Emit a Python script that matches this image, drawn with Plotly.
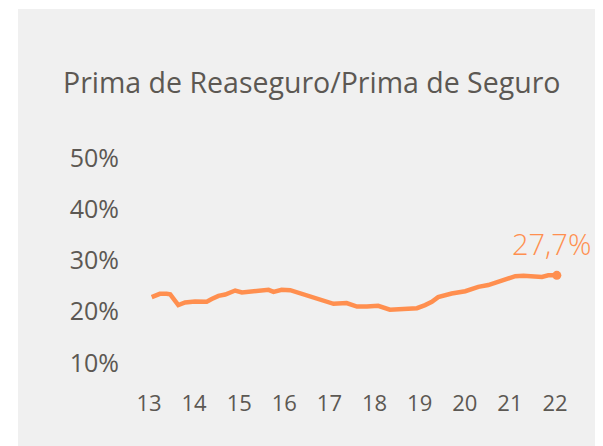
import plotly.graph_objects as go

# Data (year as decimal, ratio in %)
years = [13.06, 13.24, 13.39, 13.47, 13.65, 13.80, 14.02, 14.20, 14.28, 14.39,
         14.54, 14.69, 14.91, 15.06, 15.28, 15.50, 15.65, 15.76, 15.94, 16.13,
         16.27, 16.42, 16.64, 16.79, 17.09, 17.38, 17.61, 17.83, 18.08, 18.34,
         18.57, 18.94, 19.12, 19.27, 19.41, 19.71, 20.01, 20.30, 20.52, 20.82,
         21.12, 21.30, 21.45, 21.71, 21.85, 22.04]
ratio = [22.85, 23.5, 23.5, 23.4, 21.3, 21.8, 22.0, 22.08, 21.94, 22.47,
         23.1, 23.36, 24.14, 23.75, 23.94, 23.94, 24.27, 23.88, 24.27, 24.2,
         23.83, 23.3, 22.9, 22.5, 21.55, 21.7, 21.0, 21.0, 21.15, 20.4,
         20.6, 20.7, 21.3, 21.94, 22.85, 23.55, 24.0, 24.85, 25.2, 26.15,
         26.93, 27.0, 26.85, 26.8, 27.1, 27.1]
x_ticks = [13, 14, 15, 16, 17, 18, 19, 20, 21, 22]
y_ticks = [10, 20, 30, 40, 50]
y_tick_labels = ["10%", "20%", "30%", "40%", "50%"]
title_text = "Prima de Reaseguro/Prima de Seguro"
last_label = "27,7%"

ORANGE = "#ff8f4f"
TEXT = "#5c5853"
PANEL = "#f0f0f0"
FONT = "Open Sans"

OFF = 8  # page body margin
W, H = 603 - OFF, 446 - OFF
L, R, T, B = 122, 28, 122, 66
pw, ph = W - L - R, H - T - B

def px(x):
    return (x - OFF - L) / pw

def py(y):
    return (H - B - (y - OFF)) / ph

fig = go.Figure()
fig.add_trace(go.Scatter(
    x=years, y=ratio, mode="lines",
    line=dict(color=ORANGE, width=4.5),
    hoverinfo="skip", showlegend=False))
fig.add_trace(go.Scatter(
    x=[years[-1]], y=[ratio[-1]], mode="markers",
    marker=dict(color=ORANGE, size=9),
    hoverinfo="skip", showlegend=False))

fig.add_shape(type="rect", xref="paper", yref="paper",
              x0=px(18), x1=px(603 + 10), y0=py(446 + 10), y1=py(9),
              fillcolor=PANEL, line=dict(width=0), layer="below")

fig.add_annotation(text=title_text, xref="paper", yref="paper",
                   x=px(61), y=py(82), xanchor="left", yanchor="middle",
                   showarrow=False, font=dict(family=FONT, size=28.5, color=TEXT))
fig.add_annotation(text=last_label, xref="paper", yref="paper",
                   x=px(551), y=py(243), xanchor="center", yanchor="middle",
                   showarrow=False,
                   font=dict(family=FONT, size=29, color=ORANGE, weight=300))

fig.update_layout(
    width=W, height=H,
    margin=dict(l=L, r=R, t=T, b=B),
    paper_bgcolor="white", plot_bgcolor=PANEL,
    font=dict(family=FONT, color=TEXT),
    xaxis=dict(range=[12.579, 22.443], tickvals=x_ticks,
               ticktext=[str(v) for v in x_ticks],
               showgrid=False, zeroline=False, showline=False, ticks="",
               tickfont=dict(size=22, color=TEXT), ticklabelstandoff=8),
    yaxis=dict(range=[6.68, 55.46], tickvals=y_ticks, ticktext=y_tick_labels,
               showgrid=False, zeroline=False, showline=False, ticks="",
               tickfont=dict(size=25, color=TEXT), ticklabelstandoff=10),
)

fig.write_html("out.html")
